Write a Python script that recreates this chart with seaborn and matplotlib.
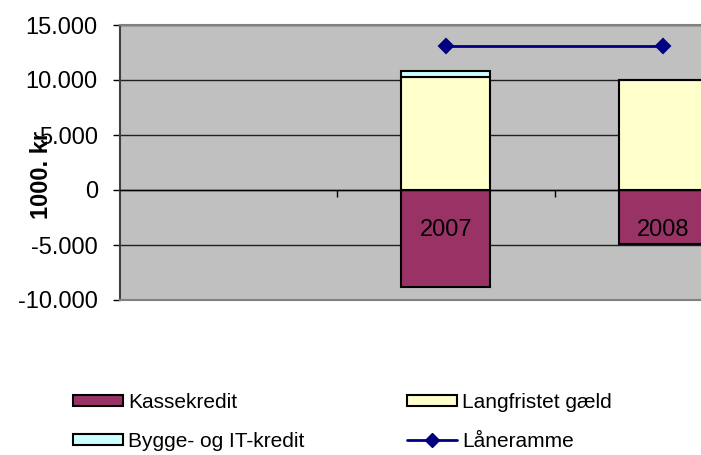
import pandas as pd
import matplotlib
matplotlib.use("Agg")
import matplotlib.pyplot as plt
import seaborn as sns
from matplotlib.patches import Patch
from matplotlib.lines import Line2D
from matplotlib.ticker import FuncFormatter

# categories on the x axis (first slot is empty in the original)
years = ["", "2007", "2008"]
data_years = ["2007", "2008"]
kassekredit = [-8800, -4900]
langfristet = [10300, 10000]
bygge_it = [550, 0]
laaneramme = [13100, 13100]

sns.set_style("white")
plt.rcParams['font.family'] = ['Liberation Sans', 'DejaVu Sans']
plt.rcParams.update({"text.color": "black", "axes.labelcolor": "black",
                     "xtick.color": "black", "ytick.color": "black"})

df = pd.DataFrame({
    "år": data_years,
    "Kassekredit": kassekredit,
    "Langfristet gæld": langfristet,
    "Bygge- og IT-kredit": bygge_it,
    "Låneramme": laaneramme,
})

c_kasse = "#993366"
c_lang = "#FFFFCC"
c_bygge = "#CCFFFF"
c_line = "#000080"

fig = plt.figure(figsize=(7.01, 4.55), dpi=100)
ax = fig.add_axes([120 / 701, 1 - 300 / 455, 581 / 701, 275 / 455])
ax.set_facecolor("#C0C0C0")

bar_kw = dict(order=years, width=0.41, edgecolor="black", linewidth=1.5,
              saturation=1, errorbar=None, ax=ax, zorder=3)
sns.barplot(data=df, x="år", y="Kassekredit", color=c_kasse, **bar_kw)
sns.barplot(data=df, x="år", y="Langfristet gæld", color=c_lang, **bar_kw)
sns.barplot(data=df, x="år", y="Bygge- og IT-kredit", color=c_bygge,
            bottom=df["Langfristet gæld"].values, **bar_kw)
sns.pointplot(data=df, x="år", y="Låneramme", order=years, color=c_line,
              markers="D", linestyles="-", errorbar=None, markersize=7,
              linewidth=2, ax=ax, zorder=4)

ax.set_xlim(-0.5, 2.174)
ax.set_ylim(-10000, 15000)
ax.set_yticks(range(-10000, 15001, 5000))
ax.yaxis.set_major_formatter(FuncFormatter(lambda v, p: f"{int(v):,}".replace(",", ".")))
ax.yaxis.grid(True, color="#202020", linewidth=1)
ax.xaxis.grid(False)
ax.set_axisbelow(True)
ax.tick_params(axis="y", left=True, length=5, width=1, direction="out",
               labelsize=17, colors="black", pad=11)
ax.tick_params(axis="x", bottom=False, labelbottom=False)
ax.set_xlabel("")
ax.set_ylabel("1000. kr", fontsize=17, fontweight="bold", color="black")
ax.yaxis.set_label_coords(-0.115, 0.455)

ax.spines["left"].set_color("#404040")
ax.spines["left"].set_linewidth(1.5)
for s in ["top", "bottom"]:
    ax.spines[s].set_color("#808080")
    ax.spines[s].set_linewidth(1.5)
ax.spines["right"].set_visible(False)

# category axis crossing at zero, drawn above the bars
sec = ax.secondary_xaxis(0.4)
sec.set_zorder(10)
sec.set_ticks([0, 1, 2], labels=years)
sec.set_ticks([0.5, 1.5], minor=True)
sec.tick_params(which="major", length=0, pad=21, labelsize=17, labelcolor="black")
sec.tick_params(which="minor", length=5, width=1, direction="out", color="black")
sec.spines["bottom"].set_color("black")
sec.spines["bottom"].set_linewidth(1)

handles = [
    Patch(facecolor=c_kasse, edgecolor="black", linewidth=1.5, label="Kassekredit"),
    Patch(facecolor=c_bygge, edgecolor="black", linewidth=1.5, label="Bygge- og IT-kredit"),
    Patch(facecolor=c_lang, edgecolor="black", linewidth=1.5, label="Langfristet gæld"),
    Line2D([], [], color=c_line, marker="D", markersize=7, linewidth=2, label="Låneramme"),
]
fig.legend(handles=handles, loc="upper left", bbox_to_anchor=(0.104, 0.137),
           ncol=2, frameon=False, fontsize=15, handlelength=2.4,
           handleheight=0.44, handletextpad=0.25, columnspacing=4.9,
           labelspacing=0.97, borderpad=0, borderaxespad=0)

fig.savefig("out.png", dpi=100)
